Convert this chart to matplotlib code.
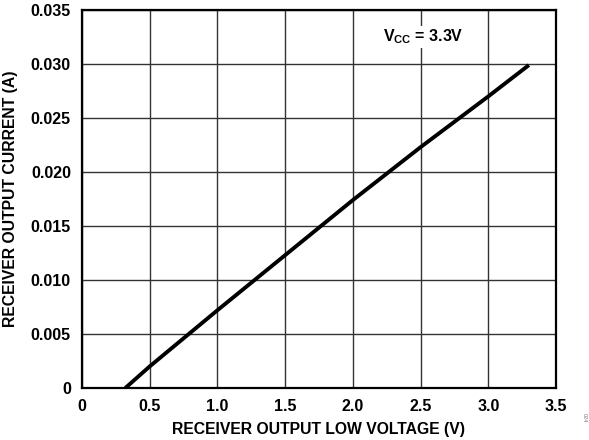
import matplotlib.pyplot as plt

# Receiver output low voltage (V) vs receiver output current (A)
voltage = [0.32, 0.5, 1.0, 1.5, 2.0, 2.5, 3.0, 3.3]
current = [0.0, 0.0020, 0.0072, 0.0123, 0.0174, 0.0223, 0.0270, 0.0299]

x_ticks = [0, 0.5, 1.0, 1.5, 2.0, 2.5, 3.0, 3.5]
x_labels = ['0', '0.5', '1.0', '1.5', '2.0', '2.5', '3.0', '3.5']
y_ticks = [0, 0.005, 0.010, 0.015, 0.020, 0.025, 0.030, 0.035]
y_labels = ['0', '0.005', '0.010', '0.015', '0.020', '0.025', '0.030', '0.035']

plt.rcParams['font.family'] = ['Liberation Sans', 'DejaVu Sans']
plt.rcParams['font.weight'] = 'bold'
plt.rcParams['mathtext.fontset'] = 'custom'
plt.rcParams['mathtext.rm'] = 'Liberation Sans:bold'
plt.rcParams['mathtext.bf'] = 'Liberation Sans:bold'

fig = plt.figure(figsize=(5.89, 4.40), dpi=100)
ax = fig.add_axes([82 / 589, 1 - 388 / 440, 474 / 589, 378 / 440])

ax.plot(voltage, current, color='black', linewidth=2.8, solid_capstyle='butt')

ax.set_xlim(0, 3.5)
ax.set_ylim(0, 0.035)
ax.set_xticks(x_ticks)
ax.set_xticklabels(x_labels)
ax.set_yticks(y_ticks)
ax.set_yticklabels(y_labels)
ax.tick_params(length=0, labelsize=11.5, pad=8)
for lbl in ax.get_xticklabels() + ax.get_yticklabels():
    lbl.set_fontweight('bold')

ax.grid(True, color='#333333', linewidth=1.0)
for side in ax.spines.values():
    side.set_linewidth(1.6)
    side.set_color('black')

ax.set_xlabel('RECEIVER OUTPUT LOW VOLTAGE (V)', fontsize=11.3, fontweight='bold', labelpad=6)
ax.set_ylabel('RECEIVER OUTPUT CURRENT (A)', fontsize=11.3, fontweight='bold', labelpad=9)

ax.text(2.22, 0.0325, r'V$_{\mathrm{CC}}$ = 3.3V', fontsize=11.5, fontweight='bold',
        ha='left', va='center', bbox=dict(facecolor='white', edgecolor='none', pad=1))

fig.text(584 / 589, 1 - 418 / 440, '024', fontsize=4, color='#777777', rotation=270,
         ha='center', va='center', fontweight='normal')

fig.savefig('out.png', dpi=100)
